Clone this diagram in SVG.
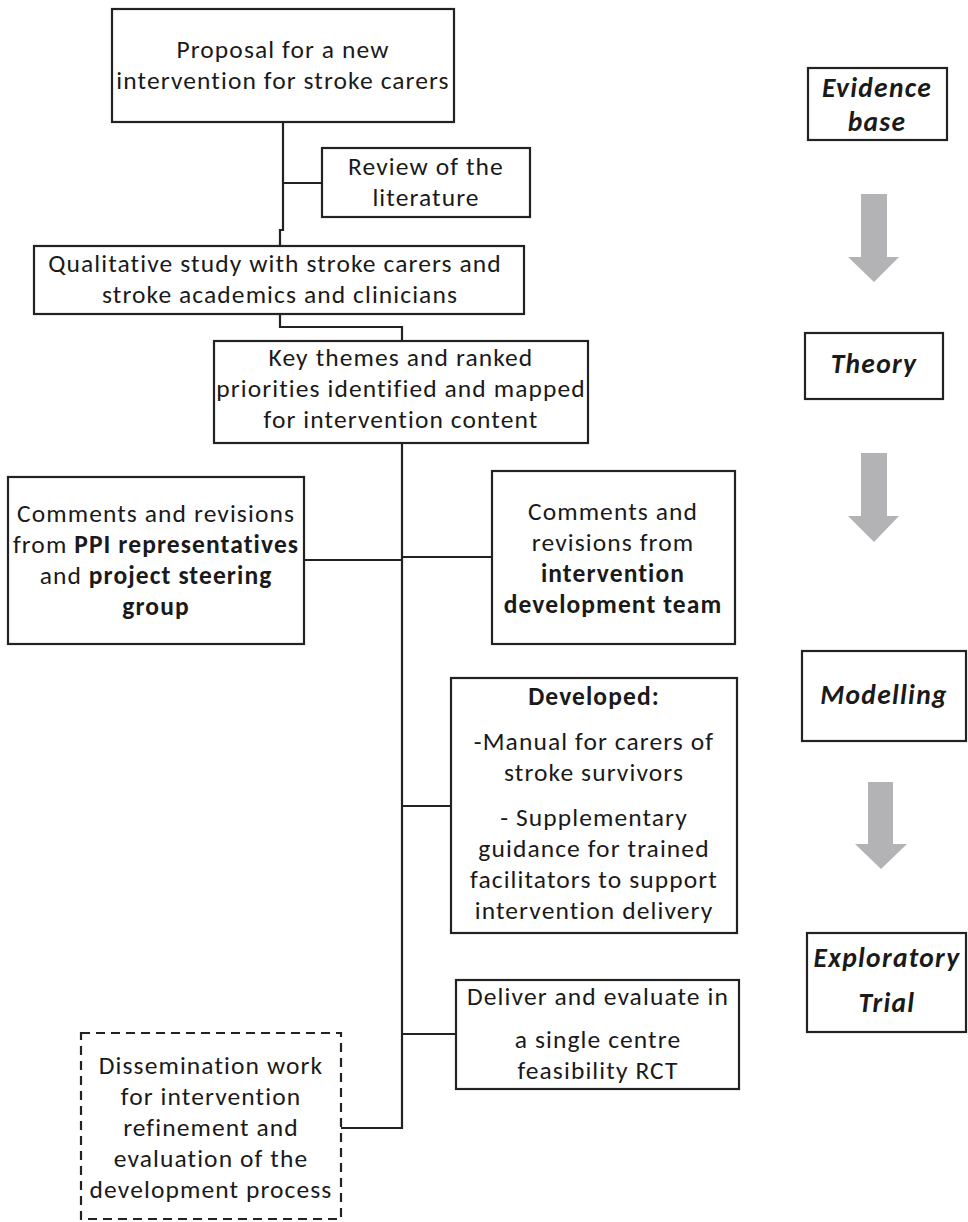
<svg xmlns="http://www.w3.org/2000/svg" width="968" height="1222" viewBox="0 0 968 1222">
<style>
.box{fill:#fff;stroke:#222;stroke-width:2.2}
.dash{fill:#fff;stroke:#222;stroke-width:2.2;stroke-dasharray:9 6}
.t{font-family:Carlito,Calibri,Lato,'Liberation Sans',sans-serif;font-size:25.5px;letter-spacing:1.1px;fill:#1a1a1a;text-anchor:middle}
.b{font-weight:bold}
.lab{font-family:Carlito,Calibri,Lato,'Liberation Sans',sans-serif;font-size:27.5px;letter-spacing:1.3px;font-weight:bold;font-style:italic;fill:#1a1a1a;text-anchor:middle}
.con{fill:none;stroke:#222;stroke-width:2.2}
.arr{fill:#b3b3b5}
</style>
<rect width="968" height="1222" fill="#fff"/>
<g id="connectors">
<path class="con" d="M283,122 V230 H280 V246"/>
<path class="con" d="M283,183 H322"/>
<path class="con" d="M280,314 V327 H402 V341"/>
<path class="con" d="M402,443 V1128 H341"/>
<path class="con" d="M304,560 H402"/>
<path class="con" d="M402,557 H492"/>
<path class="con" d="M402,806 H451"/>
<path class="con" d="M402,1034 H456"/>
</g>
<g id="proposal">
<rect class="box" x="112" y="9" width="342" height="113"/>
<text class="t" x="283" y="58">Proposal for a new</text>
<text class="t" x="283" y="89">intervention for stroke carers</text>
</g>
<g id="review">
<rect class="box" x="322" y="148" width="208" height="69"/>
<text class="t" x="426" y="175">Review of the</text>
<text class="t" x="426" y="206">literature</text>
</g>
<g id="qualitative">
<rect class="box" x="34" y="246" width="490" height="68"/>
<text class="t" x="275" y="272">Qualitative study with stroke carers and</text>
<text class="t" x="280" y="303">stroke academics and clinicians</text>
</g>
<g id="themes">
<rect class="box" x="214" y="341" width="374" height="102"/>
<text class="t" x="401" y="366">Key themes and ranked</text>
<text class="t" x="401" y="397">priorities identified and mapped</text>
<text class="t" x="401" y="428">for intervention content</text>
</g>
<g id="ppi">
<rect class="box" x="8" y="477" width="296" height="167"/>
<text class="t" x="156" y="522">Comments and revisions</text>
<text class="t" x="156" y="553">from <tspan class="b">PPI representatives</tspan></text>
<text class="t" x="156" y="584">and <tspan class="b">project steering</tspan></text>
<text class="t b" x="156" y="615">group</text>
</g>
<g id="team">
<rect class="box" x="492" y="471" width="243" height="173"/>
<text class="t" x="613" y="520">Comments and</text>
<text class="t" x="613" y="551">revisions from</text>
<text class="t b" x="613" y="582">intervention</text>
<text class="t b" x="613" y="613">development team</text>
</g>
<g id="developed">
<rect class="box" x="451" y="678" width="286" height="255"/>
<text class="t b" x="594" y="705">Developed:</text>
<text class="t" x="594" y="750">-Manual for carers of</text>
<text class="t" x="594" y="781">stroke survivors</text>
<text class="t" x="594" y="826">- Supplementary</text>
<text class="t" x="594" y="857">guidance for trained</text>
<text class="t" x="594" y="888">facilitators to support</text>
<text class="t" x="594" y="919">intervention delivery</text>
</g>
<g id="deliver">
<rect class="box" x="456" y="980" width="283" height="109"/>
<text class="t" x="598" y="1005">Deliver and evaluate in</text>
<text class="t" x="598" y="1048">a single centre</text>
<text class="t" x="598" y="1079">feasibility RCT</text>
</g>
<g id="dissemination">
<rect class="dash" x="81" y="1033" width="260" height="186"/>
<text class="t" x="211" y="1074">Dissemination work</text>
<text class="t" x="211" y="1105">for intervention</text>
<text class="t" x="211" y="1136">refinement and</text>
<text class="t" x="211" y="1167">evaluation of the</text>
<text class="t" x="211" y="1198">development process</text>
</g>
<g id="evidence">
<rect class="box" x="808" y="68" width="139" height="72"/>
<text class="lab" x="877" y="97">Evidence</text>
<text class="lab" x="877" y="131">base</text>
</g>
<g id="theory">
<rect class="box" x="805" y="333" width="138" height="66"/>
<text class="lab" x="874" y="373">Theory</text>
</g>
<g id="modelling">
<rect class="box" x="802" y="651" width="164" height="90"/>
<text class="lab" x="884" y="704">Modelling</text>
</g>
<g id="exploratory">
<rect class="box" x="807" y="933" width="159" height="99"/>
<text class="lab" x="887" y="967">Exploratory</text>
<text class="lab" x="887" y="1012">Trial</text>
</g>
<g id="arrows">
<polygon class="arr" points="861,194 887,194 887,257 899,257 874,282 848,257 861,257"/>
<polygon class="arr" points="861,453 887,453 887,516 899,516 874,542 848,516 861,516"/>
<polygon class="arr" points="868,782 893,782 893,844 907,844 881,869 855,844 868,844"/>
</g>
</svg>
